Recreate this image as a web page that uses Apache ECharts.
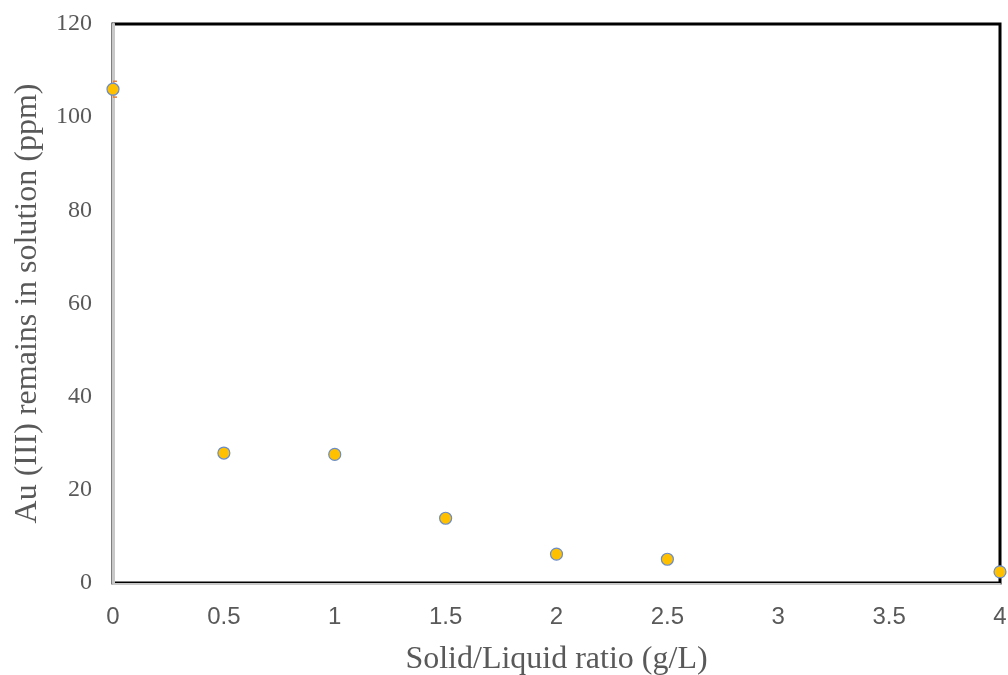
<!DOCTYPE html>
<html>
<head>
<meta charset="utf-8">
<script src="https://cdn.jsdelivr.net/npm/echarts@6/dist/echarts.min.js"></script>
<style>
  html, body { margin: 0; padding: 0; background: #fff; }
  #chart { width: 1008px; height: 675px; }
</style>
</head>
<body>
<div id="chart"></div>
<script>
// Solid/liquid ratio (g/L) and Au(III) left in solution (ppm)
const ratios = [0, 0.5, 1, 1.5, 2, 2.5, 4];
const auRemaining = [106, 27.9, 27.6, 13.9, 6.2, 5.1, 2.4];
const auError = [1.7, 0.4, 0.4, 0.4, 0.3, 0.3, 0.3];
const xTicks = [0, 0.5, 1, 1.5, 2, 2.5, 3, 3.5, 4];

const SERIF = '"Liberation Serif", "Times New Roman", serif';
const SANS = '"Liberation Sans", Arial, sans-serif';
const GREY = '#595959';

const points = ratios.map((x, i) => [x, auRemaining[i]]);
const errors = ratios.map((x, i) => [x, auRemaining[i] - auError[i], auRemaining[i] + auError[i]]);

const chart = echarts.init(document.getElementById('chart'));
chart.setOption({
  animation: false,
  backgroundColor: '#fff',
  grid: {
    left: 113, right: 8, top: 24, bottom: 92,
    containLabel: false, outerBoundsMode: 'none',
    show: true, borderColor: '#000', borderWidth: 3, backgroundColor: 'transparent'
  },
  xAxis: {
    type: 'value', min: 0, max: 4, interval: 0.5,
    offset: 1,
    axisLine: { show: true, onZero: false, lineStyle: { color: '#c8c8c8', width: 2 } },
    axisTick: { show: false },
    splitLine: { show: false },
    axisLabel: {
      margin: 21, color: GREY, fontFamily: SANS, fontSize: 24,
      formatter: v => xTicks.includes(v) ? String(v) : ''
    },
    name: 'Solid/Liquid ratio (g/L)', nameLocation: 'middle', nameGap: 60,
    nameTextStyle: { color: GREY, fontFamily: SERIF, fontSize: 32 }
  },
  yAxis: {
    type: 'value', min: 0, max: 120, interval: 20,
    offset: 2,
    axisLine: { show: true, lineStyle: { color: '#c8c8c8', width: 3 } },
    axisTick: { show: false },
    splitLine: { show: false },
    axisLabel: { margin: 19, color: GREY, fontFamily: SERIF, fontSize: 24 },
    name: 'Au (III) remains in solution (ppm)', nameLocation: 'middle', nameGap: 67,
    nameTextStyle: { color: GREY, fontFamily: SERIF, fontSize: 32 }
  },
  series: [
    {
      type: 'custom',
      clip: true,
      data: errors,
      renderItem: (params, api) => {
        const lo = api.coord([api.value(0), api.value(1)]);
        const hi = api.coord([api.value(0), api.value(2)]);
        const w = 4;
        const style = { stroke: '#ED7D31', lineWidth: 1.5 };
        return {
          type: 'group',
          children: [
            { type: 'line', shape: { x1: lo[0], y1: lo[1], x2: hi[0], y2: hi[1] }, style },
            { type: 'line', shape: { x1: lo[0] - w, y1: lo[1], x2: lo[0] + w, y2: lo[1] }, style },
            { type: 'line', shape: { x1: hi[0] - w, y1: hi[1], x2: hi[0] + w, y2: hi[1] }, style }
          ]
        };
      },
      z: 2
    },
    {
      type: 'scatter',
      data: points,
      symbol: 'circle',
      symbolSize: 12,
      clip: false,
      itemStyle: { color: '#FFC000', borderColor: '#6A8CC8', borderWidth: 1.2, opacity: 1 },
      z: 3
    }
  ]
});
</script>
</body>
</html>
